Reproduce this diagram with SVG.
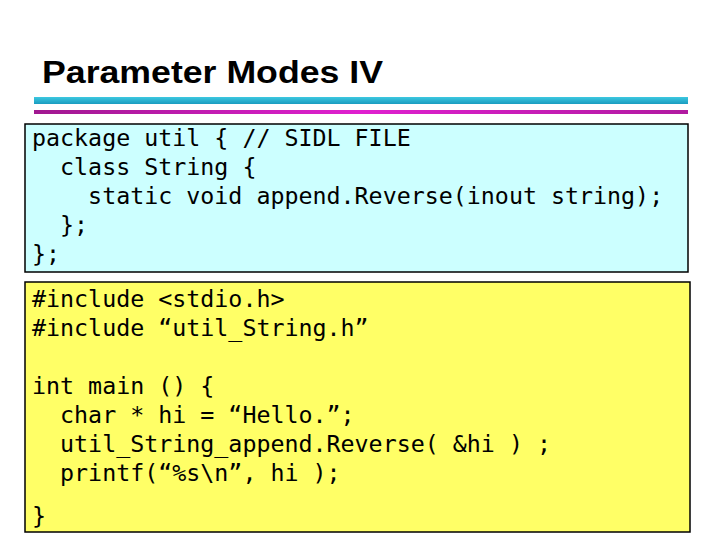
<svg xmlns="http://www.w3.org/2000/svg" width="720" height="540" viewBox="0 0 720 540">
<style>
.code{font-family:"DejaVu Sans Mono",monospace;font-size:23.3px;fill:#000;white-space:pre}
.box{stroke:#000;stroke-width:1.5}
</style>
<defs>
<linearGradient id="cy" x1="0" y1="0" x2="0" y2="1"><stop offset="0" stop-color="#3cc8e0"/><stop offset="1" stop-color="#1a9cc0"/></linearGradient>
<linearGradient id="mg" x1="0" y1="0" x2="1" y2="0"><stop offset="0" stop-color="#a01890"/><stop offset="0.5" stop-color="#e020d0"/><stop offset="1" stop-color="#b01aa0"/></linearGradient>
</defs>
<rect width="720" height="540" fill="#fff"/>
<text x="42" y="83" font-family="Liberation Sans,Arial,sans-serif" font-weight="bold" font-size="31" textLength="341" lengthAdjust="spacingAndGlyphs">Parameter Modes IV</text>
<rect x="34" y="97" width="654" height="7" fill="url(#cy)"/>
<rect x="34" y="110" width="654" height="4" fill="url(#mg)"/>
<g id="sidl">
<rect class="box" x="25" y="124" width="663" height="148" fill="#ccffff"/>
<text class="code" x="32" y="146">package util { // SIDL FILE</text>
<text class="code" x="32" y="175">  class String {</text>
<text class="code" x="32" y="204">    static void append.Reverse(inout string);</text>
<text class="code" x="32" y="233">  };</text>
<text class="code" x="32" y="262">};</text>
</g>
<g id="c-code">
<rect class="box" x="25" y="282" width="665" height="250" fill="#ffff66"/>
<text class="code" x="32" y="307">#include &lt;stdio.h&gt;</text>
<text class="code" x="32" y="336">#include “util_String.h”</text>
<text class="code" x="32" y="394">int main () {</text>
<text class="code" x="32" y="423">  char * hi = “Hello.”;</text>
<text class="code" x="32" y="452">  util_String_append.Reverse( &amp;hi ) ;</text>
<text class="code" x="32" y="481">  printf(“%s\n”, hi );</text>
<text class="code" x="32" y="524">}</text>
</g>
<g id="connectors"/>
</svg>
